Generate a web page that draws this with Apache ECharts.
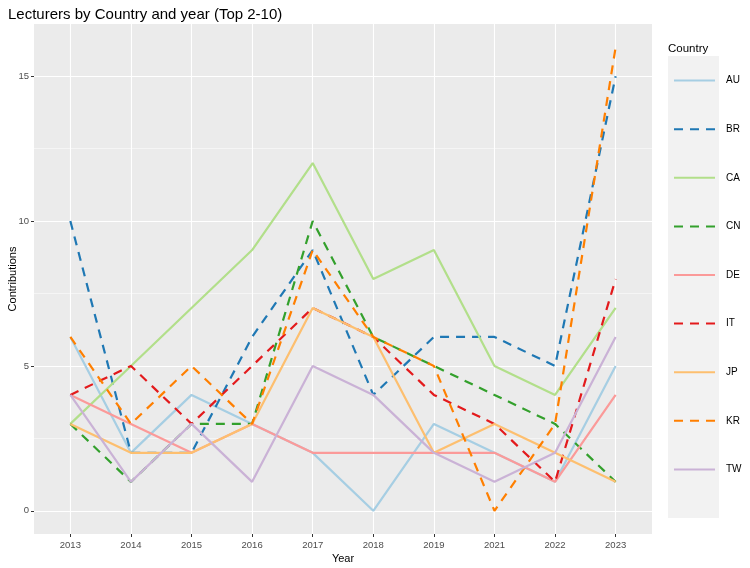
<!DOCTYPE html>
<html>
<head>
<meta charset="utf-8">
<script src="https://cdn.jsdelivr.net/npm/echarts@6/dist/echarts.min.js"></script>
<style>
html, body { margin: 0; background: #fff; }
#chart { width: 750px; height: 568px; }
</style>
</head>
<body>
<div id="chart"></div>
<script>
// years on the x axis (2020 missing in source data)
var years = ['2013', '2014', '2015', '2016', '2017', '2018', '2019', '2021', '2022', '2023'];
var countries = ['AU', 'BR', 'CA', 'CN', 'DE', 'IT', 'JP', 'KR', 'TW'];

var AU = [6, 2, 4, 3, 2, 0, 3, 2, 1, 5];
var BR = [10, 2, 2, 6, 9, 4, 6, 6, 5, 15];
var CA = [3, 5, 7, 9, 12, 8, 9, 5, 4, 7];
var CN = [3, 1, 3, 3, 10, 6, 5, 4, 3, 1];
var DE = [4, 3, 2, 3, 2, 2, 2, 2, 1, 4];
var IT = [4, 5, 3, 5, 7, 6, 4, 3, 1, 8];
var JP = [3, 2, 2, 3, 7, 6, 2, 3, 2, 1];
var KR = [6, 3, 5, 3, 9, 6, 5, 0, 3, 16];
var TW = [4, 1, 3, 1, 5, 4, 2, 1, 2, 6];

var yTicks = [0, 5, 10, 15];
var yMinor = [2.5, 7.5, 12.5];

var values = { AU: AU, BR: BR, CA: CA, CN: CN, DE: DE, IT: IT, JP: JP, KR: KR, TW: TW };
var colors = ['#A6CEE3', '#1F78B4', '#B2DF8A', '#33A02C', '#FB9A99', '#E31A1C', '#FDBF6F', '#FF7F00', '#CAB2D6'];

var xIdx = years.map(function (y, i) { return i; });

var series = countries.map(function (c, k) {
	return {
		name: c,
		type: 'line',
		symbol: 'none',
		silent: true,
		animation: false,
		data: values[c].map(function (v, i) { return [i, v]; }),
		lineStyle: {
			color: colors[k],
			width: 2.2,
			type: k % 2 === 1 ? [9, 7] : 'solid'
		},
		// transparent so the legend shows only the line
		itemStyle: { color: 'rgba(0,0,0,0)' }
	};
});

var chart = echarts.init(document.getElementById('chart'));
chart.setOption({
	animation: false,
	backgroundColor: '#fff',
	title: [{
		text: 'Lecturers by Country and year (Top 2-10)',
		left: 3, top: 2,
		textStyle: { fontFamily: 'Liberation Sans', fontSize: 15, fontWeight: 'normal', color: '#000' }
	}, {
		text: 'Country',
		left: 663, top: 38,
		textStyle: { fontFamily: 'Liberation Sans', fontSize: 11.5, fontWeight: 'normal', color: '#000' }
	}],
	graphic: [{
		type: 'rect', left: 668, top: 56, z: -1,
		shape: { width: 51, height: 462 },
		style: { fill: '#F2F2F2' }
	}],
	legend: {
		orient: 'vertical',
		left: 673, top: 75,
		padding: 0,
		itemWidth: 41, itemHeight: 14,
		itemGap: 37.4,
		data: countries,
		itemStyle: { opacity: 0 },
		textStyle: { fontFamily: 'Liberation Sans', fontSize: 10, color: '#000', padding: [0, 0, 0, 6] }
	},
	grid: {
		left: 34, right: 98, top: 24, bottom: 34,
		outerBoundsMode: 'none',
		containLabel: false,
		show: true, backgroundColor: '#EBEBEB', borderWidth: 0
	},
	xAxis: {
		type: 'value',
		min: -0.6, max: 9.6,
		name: 'Year',
		nameLocation: 'middle',
		nameGap: 19,
		nameMoveOverlap: false,
		nameTextStyle: { fontFamily: 'Liberation Sans', fontSize: 11, color: '#000' },
		axisLine: { show: false, onZero: false },
		axisTick: { show: true, length: 3, customValues: xIdx, lineStyle: { color: '#333' } },
		axisLabel: {
			customValues: xIdx, margin: 6,
			fontFamily: 'Liberation Sans', fontSize: 9.5, color: '#4D4D4D',
			formatter: function (v) { return years[Math.round(v)]; }
		},
		splitLine: { show: true, lineStyle: { color: '#fff', width: 1.1 } }
	},
	yAxis: [{
		type: 'value',
		min: -0.8, max: 16.8,
		name: 'Contributions',
		nameLocation: 'middle',
		nameGap: 16,
		nameMoveOverlap: false,
		nameTextStyle: { fontFamily: 'Liberation Sans', fontSize: 11, color: '#000' },
		axisLine: { show: false, onZero: false },
		axisTick: { show: true, length: 3, customValues: yTicks, lineStyle: { color: '#333' } },
		axisLabel: {
			customValues: yTicks, margin: 5,
			fontFamily: 'Liberation Sans', fontSize: 9.5, color: '#4D4D4D'
		},
		splitLine: { show: true, lineStyle: { color: '#fff', width: 1.1 } }
	}, {
		type: 'value',
		min: -0.8, max: 16.8,
		position: 'left',
		axisLine: { show: false, onZero: false },
		axisTick: { show: false, customValues: yMinor },
		axisLabel: { show: false, customValues: yMinor },
		splitLine: { show: true, lineStyle: { color: '#fff', width: 0.5 } }
	}],
	series: series
});
</script>
</body>
</html>
